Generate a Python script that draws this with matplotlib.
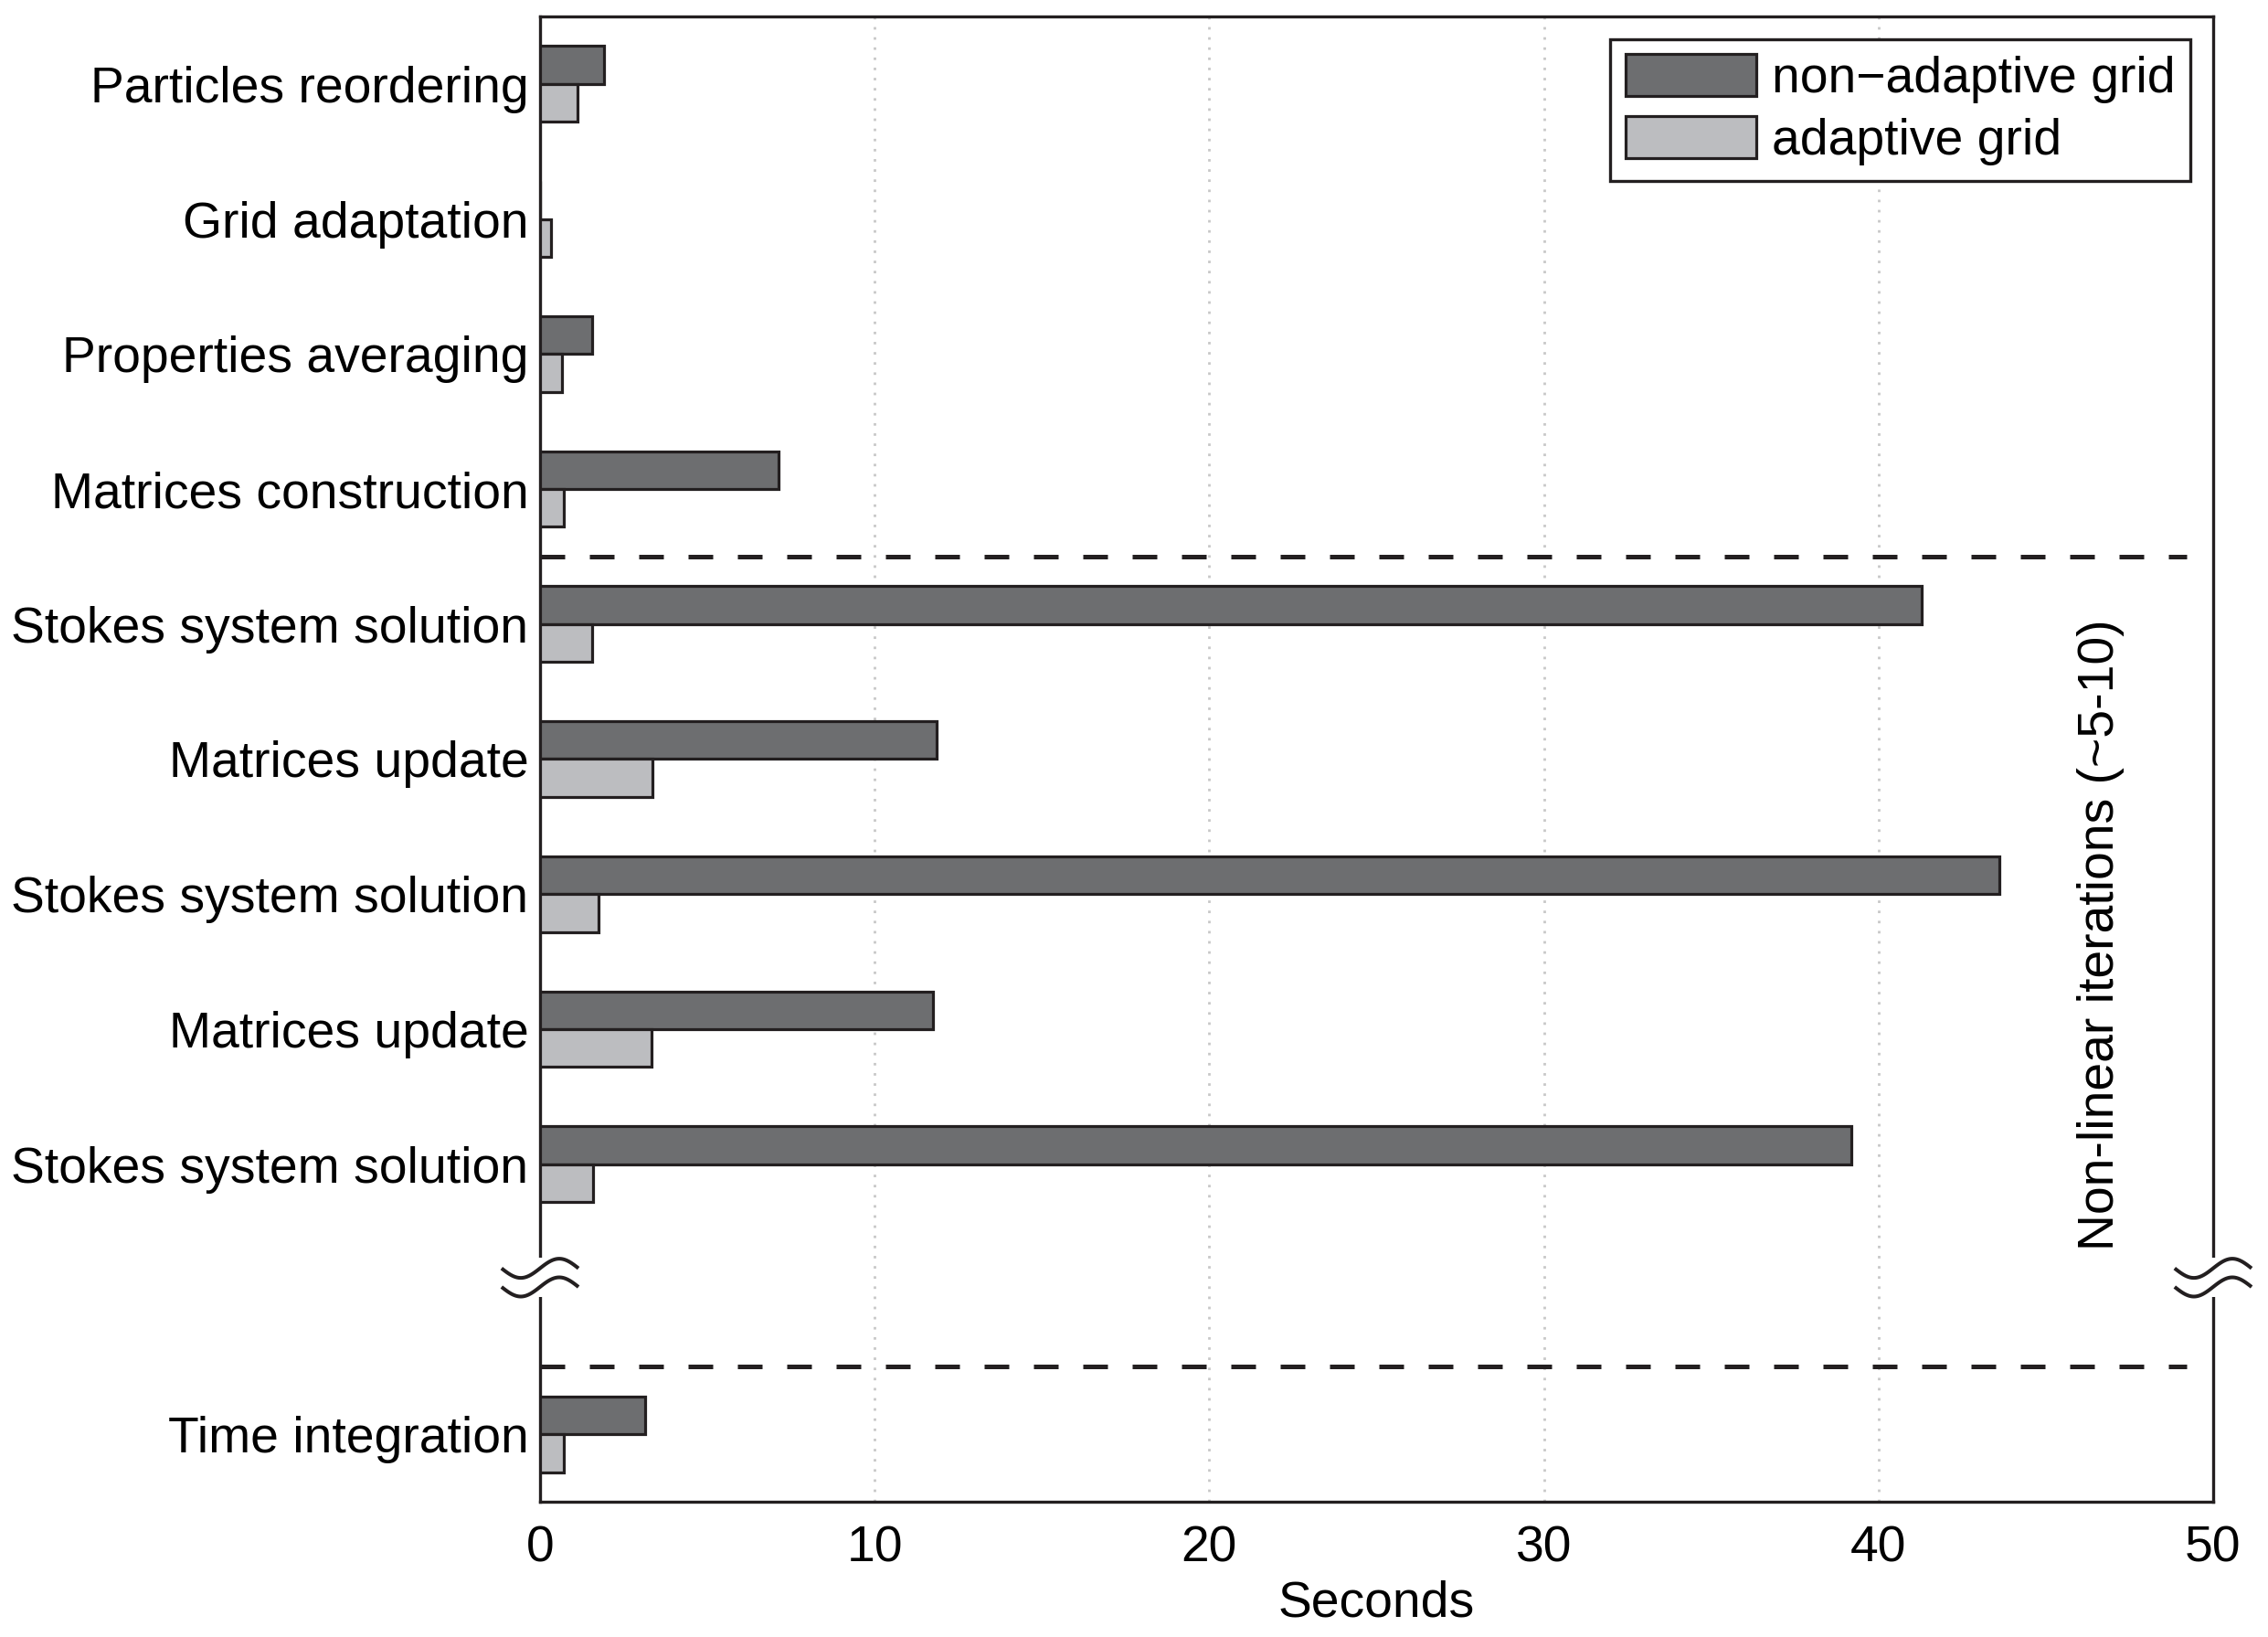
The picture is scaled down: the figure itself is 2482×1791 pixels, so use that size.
import matplotlib
matplotlib.use("Agg")
import matplotlib.pyplot as plt
import numpy as np
from matplotlib.patches import Rectangle

plt.rcParams["font.family"] = ["Liberation Sans", "DejaVu Sans"]

# data (seconds)
categories = ["Particles reordering", "Grid adaptation", "Properties averaging",
              "Matrices construction", "Stokes system solution", "Matrices update",
              "Stokes system solution", "Matrices update", "Stokes system solution",
              "Time integration"]
non_adaptive = [1.9, 0.0, 1.56, 7.12, 41.3, 11.84, 43.6, 11.75, 39.2, 3.14]
adaptive = [1.13, 0.32, 0.67, 0.70, 1.55, 3.37, 1.75, 3.34, 1.59, 0.70]
xticks = [0, 10, 20, 30, 40, 50]

DARK = "#6d6e70"
LIGHT = "#bcbdc0"
EDGE = "#231f20"
FS = 19.9

# one empty slot before the last row (axis break)
pos = np.r_[np.arange(len(categories) - 1), len(categories)]
h = 0.28

fig = plt.figure(figsize=(12.41, 8.955), dpi=200)
ax = fig.add_axes([0.2381, 0.0826, 0.7377, 0.9074])

ax.barh(pos - h / 2, non_adaptive, height=h, color=DARK, edgecolor=EDGE,
        linewidth=1.15, label="non\u2212adaptive grid", zorder=3)
ax.barh(pos + h / 2, adaptive, height=h, color=LIGHT, edgecolor=EDGE,
        linewidth=1.15, label="adaptive grid", zorder=3)

ax.set_xlim(0, 50)
ax.set_ylim(len(categories) + 0.5, -0.5)
ax.set_yticks(pos)
ax.set_yticklabels(categories, fontsize=FS)
ax.set_xticks(xticks)
ax.set_xticklabels([str(v) for v in xticks], fontsize=FS)
ax.tick_params(axis="both", length=0)
ax.tick_params(axis="x", pad=9)
ax.tick_params(axis="y", pad=4.5)
ax.set_xlabel("Seconds", fontsize=FS, labelpad=3)

ax.set_axisbelow(True)
ax.xaxis.grid(True, linestyle=(0, (1, 3)), color="#c8c8c8", linewidth=1.0)
for s in ax.spines.values():
    s.set_linewidth(1.2)
    s.set_color(EDGE)

# separators between stages
for ysep in [3.5, len(categories) - 0.5]:
    ax.plot([0, 49.2], [ysep, ysep], color=EDGE, linewidth=1.8,
            linestyle=(0, (5.4, 5.4)), zorder=4)

ax.text(46.65, 6.3, "Non-linear iterations (~5-10)", rotation=90,
        ha="center", va="center", fontsize=FS)

# axis break marks
yb = 8.84
t = np.linspace(0, 2 * np.pi, 80)
for xc in (0, 50):
    ax.add_patch(Rectangle((xc - 0.4, yb - 0.145), 0.8, 0.29, facecolor="white",
                           edgecolor="none", zorder=5, clip_on=False))
    wx = np.linspace(xc - 1.15, xc + 1.15, 80)
    for off in (-0.069, 0.069):
        ax.plot(wx, yb + off + 0.071 * np.sin(t), color=EDGE, linewidth=1.45,
                zorder=6, clip_on=False, solid_capstyle="butt")

leg = ax.legend(loc="upper right", fontsize=FS, handlelength=2.6,
                handleheight=0.9, borderaxespad=0.45, fancybox=False,
                framealpha=1, edgecolor=EDGE, handletextpad=0.3,
                borderpad=0.3, labelspacing=0.25)
leg.get_frame().set_linewidth(1.2)

fig.savefig("out.png", dpi=200)
